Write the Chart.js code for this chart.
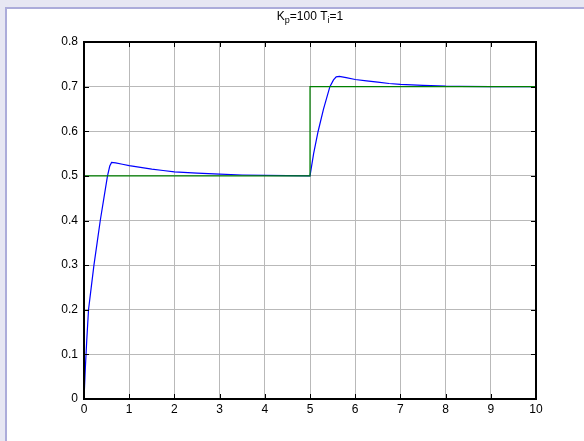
<!DOCTYPE html>
<html>
<head>
<meta charset="utf-8">
<script src="https://cdn.jsdelivr.net/npm/chart.js@4/dist/chart.umd.min.js"></script>
<style>
  html, body { margin: 0; padding: 0; background: #fff; }
  canvas { display: block; }
</style>
</head>
<body>
<canvas id="myChart" width="584" height="441"></canvas>
<script>
// process output (blue)
const outTime = [0, 0.03, 0.06, 0.1, 0.16, 0.22, 0.29, 0.36, 0.44, 0.52, 0.57, 0.61, 0.7, 0.85, 1.0, 1.25, 1.5, 1.75, 2.0, 2.5, 3.0, 3.5, 4.0, 4.5, 5.0,
  5.08, 5.18, 5.3, 5.44, 5.52, 5.58, 5.65, 5.8, 6.0, 6.25, 6.5, 6.75, 7.0, 7.5, 8.0, 8.3, 9.0, 10];
const outValue = [0, 0.07, 0.13, 0.2, 0.25, 0.3, 0.35, 0.4, 0.45, 0.5, 0.522, 0.53, 0.529, 0.526, 0.523, 0.519, 0.515, 0.512, 0.509, 0.506, 0.504, 0.502, 0.501, 0.5005, 0.5,
  0.55, 0.6, 0.65, 0.7, 0.715, 0.722, 0.723, 0.72, 0.716, 0.713, 0.71, 0.707, 0.705, 0.703, 0.701, 0.7005, 0.7, 0.7];

// setpoint (green)
const refTime = [0, 5, 5, 10];
const refValue = [0.5, 0.5, 0.7, 0.7];

const xTicks = [0, 1, 2, 3, 4, 5, 6, 7, 8, 9, 10];
const xTickLabels = ["0", "1", "2", "3", "4", "5", "6", "7", "8", "9", "10"];
const yTicks = [0, 0.1, 0.2, 0.3, 0.4, 0.5, 0.6, 0.7, 0.8];
const yTickLabels = ["0", "0.1", "0.2", "0.3", "0.4", "0.5", "0.6", "0.7", "0.8"];

const FONT = "'Liberation Sans', Arial, Helvetica, sans-serif";

const toPoints = (xs, ys) => xs.map((x, i) => ({ x: x, y: ys[i] }));

// lavender frame behind the figure
const framePlugin = {
  id: "frame",
  beforeDraw(chart) {
    const ctx = chart.ctx;
    ctx.save();
    ctx.fillStyle = "#e7e7f3";
    ctx.fillRect(0, 0, chart.width, chart.height);
    ctx.fillStyle = "#acacda";
    ctx.fillRect(5, 7, chart.width, chart.height);
    ctx.fillStyle = "#ffffff";
    ctx.fillRect(7, 9, chart.width, chart.height);
    ctx.restore();
  }
};

// matlab-like box with inward ticks + title with subscripts
const boxPlugin = {
  id: "box",
  afterDraw(chart) {
    const ctx = chart.ctx;
    const a = chart.chartArea;
    const xs = chart.scales.x, ys = chart.scales.y;
    ctx.save();
    ctx.strokeStyle = "#000";
    ctx.lineWidth = 1;
    ctx.beginPath();
    xTicks.forEach(v => {
      const px = Math.round(xs.getPixelForValue(v)) + 0.5;
      ctx.moveTo(px, a.bottom); ctx.lineTo(px, a.bottom - 5);
      ctx.moveTo(px, a.top); ctx.lineTo(px, a.top + 5);
    });
    yTicks.forEach(v => {
      const py = Math.round(ys.getPixelForValue(v)) + 0.5;
      ctx.moveTo(a.left, py); ctx.lineTo(a.left + 5, py);
      ctx.moveTo(a.right, py); ctx.lineTo(a.right - 5, py);
    });
    ctx.stroke();
    ctx.lineWidth = 2;
    ctx.strokeRect(a.left, a.top, a.right - a.left, a.bottom - a.top);

    // title: K_p=100 T_i=1
    const parts = [["K", false], ["p", true], ["=100 T", false], ["i", true], ["=1", false]];
    const big = "12px " + FONT, small = "9px " + FONT;
    let w = 0;
    parts.forEach(p => { ctx.font = p[1] ? small : big; w += ctx.measureText(p[0]).width; });
    let x = (a.left + a.right) / 2 - w / 2;
    const base = 20;
    ctx.fillStyle = "#000";
    ctx.textBaseline = "alphabetic";
    ctx.textAlign = "left";
    parts.forEach(p => {
      ctx.font = p[1] ? small : big;
      ctx.fillText(p[0], x, p[1] ? base + 3 : base);
      x += ctx.measureText(p[0]).width;
    });
    ctx.restore();
  }
};

new Chart(document.getElementById("myChart"), {
  type: "line",
  data: {
    datasets: [
      {
        label: "setpoint",
        data: toPoints(refTime, refValue),
        borderColor: "#008000",
        borderWidth: 1.2,
        pointRadius: 0,
        tension: 0,
        order: 0
      },
      {
        label: "output",
        data: toPoints(outTime, outValue),
        borderColor: "#0000ff",
        borderWidth: 1.2,
        pointRadius: 0,
        tension: 0,
        order: 1
      }
    ]
  },
  options: {
    responsive: false,
    animation: false,
    events: [],
    layout: { padding: { top: 42, right: 48, left: 0, bottom: 0 } },
    plugins: {
      legend: { display: false },
      tooltip: { enabled: false },
      title: { display: false }
    },
    scales: {
      x: {
        type: "linear",
        min: 0,
        max: 10,
        afterBuildTicks: s => { s.ticks = xTicks.map(v => ({ value: v })); },
        afterFit: s => { s.height = 42; },
        ticks: {
          callback: (v, i) => xTickLabels[i],
          color: "#000",
          padding: 3,
          maxRotation: 0,
          autoSkip: false,
          font: { family: FONT, size: 12 }
        },
        grid: { color: "#b9b9b9", lineWidth: 1, drawTicks: false },
        border: { display: false }
      },
      y: {
        type: "linear",
        min: 0,
        max: 0.8,
        afterBuildTicks: s => { s.ticks = yTicks.map(v => ({ value: v })); },
        afterFit: s => { s.width = 84; },
        ticks: {
          callback: (v, i) => yTickLabels[i],
          color: "#000",
          padding: 6,
          autoSkip: false,
          font: { family: FONT, size: 12 }
        },
        grid: { color: "#b9b9b9", lineWidth: 1, drawTicks: false },
        border: { display: false }
      }
    }
  },
  plugins: [framePlugin, boxPlugin]
});
</script>
</body>
</html>
